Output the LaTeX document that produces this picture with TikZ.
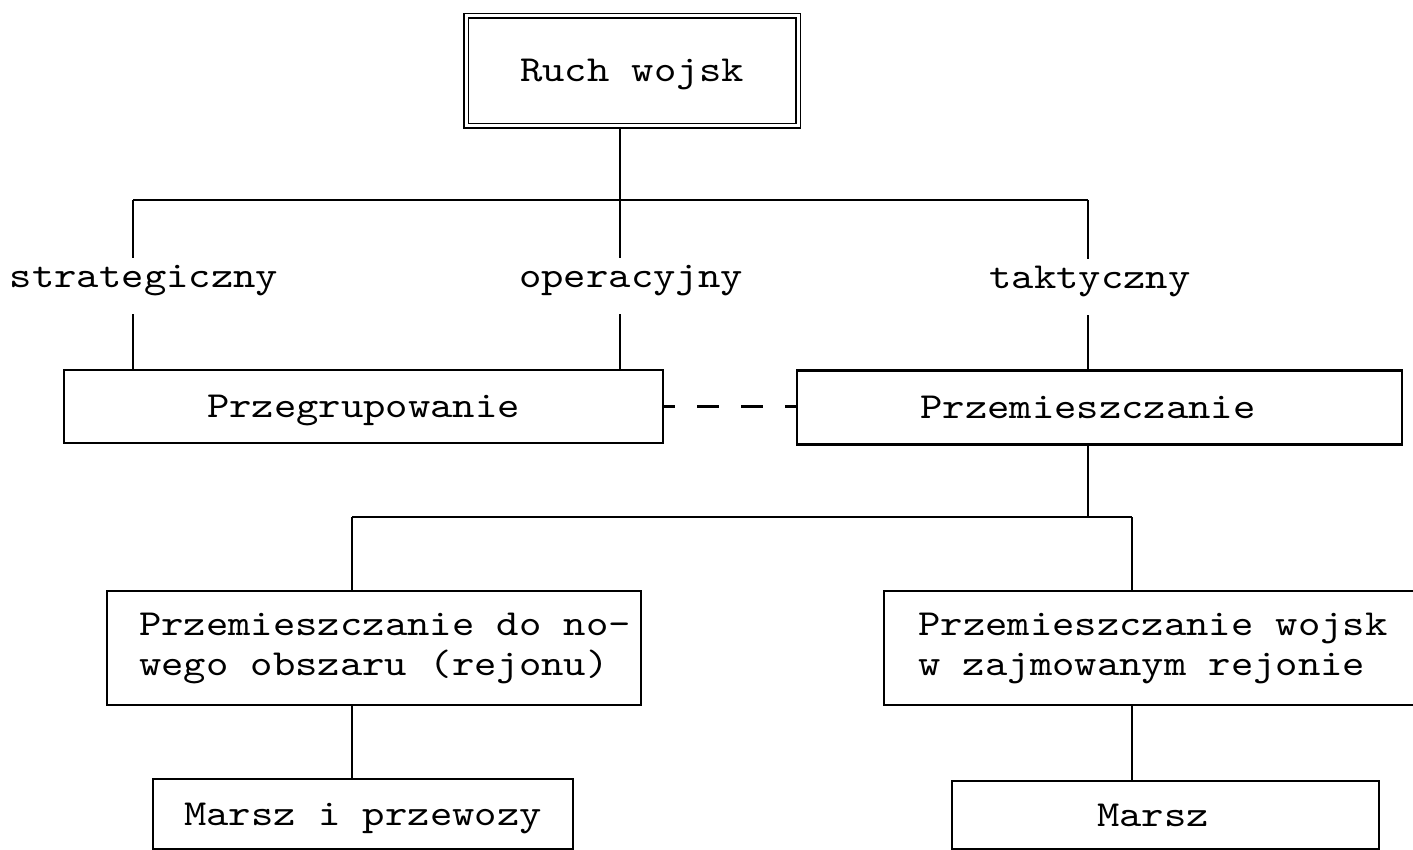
\documentclass[tikz,border=0pt]{standalone}
\usepackage{fontspec}
\setmonofont[FakeStretch=1.16]{lmmono10-regular.otf}
\begin{document}
\begin{tikzpicture}[x=0.5pt,y=-0.5pt,
  every node/.style={font=\fontsize{18.35}{20}\selectfont\ttfamily},
  conn/.style={line width=1.05pt},
  box/.style={draw,line width=1.05pt,inner sep=0pt,anchor=center},
  onebox/.style={box,text height=13.5pt,text depth=2.5pt},
  rootbox/.style={onebox,double,double distance=1.5pt,line width=0.9pt},
  lvl/.style={inner sep=0pt,anchor=base,text height=14.5pt,text depth=13.5pt},
  link/.style={conn,dash pattern=on 11pt off 11pt,dash phase=5.5pt}]
\useasboundingbox (0,0) rectangle (1413,850);
\clip (0,0) rectangle (1413,850);

% root
\node[rootbox,minimum width=166pt,minimum height=55pt] (ruch) at (632,71) {Ruch wojsk};

% level labels
\node[lvl] (strat) at (144,287) {strategiczny};
\node[lvl] (oper) at (631,287) {operacyjny};
\node[lvl] (takt) at (1090,288) {taktyczny};

% second row
\node[onebox,minimum width=299.5pt,minimum height=36.5pt] (pg) at (363.5,406.5) {Przegrupowanie};
\node[onebox,minimum width=302.5pt,minimum height=37pt] (pz) at (1099.5,407.5) {Przemieszczanie\hspace*{11.5pt}};

% third row
\node[box,align=left,minimum width=267pt,minimum height=57pt] (nowy) at (374,648)
  {\hspace*{11pt}Przemieszczanie do no-\\\hspace*{11pt}wego obszaru (rejonu)};
\node[box,align=left,minimum width=269pt,minimum height=57pt] (zajm) at (1153,648)
  {Przemieszczanie wojsk\\w zajmowanym rejonie};

% bottom row
\node[onebox,minimum width=210pt,minimum height=35pt] (mp) at (363,814) {Marsz i przewozy};
\node[onebox,minimum width=213.5pt,minimum height=34pt] (m) at (1165.5,815) {Marsz\hspace*{12.5pt}};

% branch points
\coordinate (sA) at (133,200);
\coordinate (oA) at (620,200);
\coordinate (tA) at (1088,200);
\coordinate (bC) at (1088,517);
\coordinate (bL) at (352,517);
\coordinate (bR) at (1132,517);

% upper tree
\draw[conn] (ruch.south -| oA) -- (oA);
\draw[conn] (sA) -- (tA);
\draw[conn] (sA) -- (strat.north -| sA);
\draw[conn] (strat.south -| sA) -- (pg.north -| sA);
\draw[conn] (oA) -- (oper.north -| oA);
\draw[conn] (oper.south -| oA) -- (pg.north -| oA);
\draw[conn] (tA) -- (takt.north -| tA);
\draw[conn] (takt.south -| tA) -- (pz.north -| tA);

% dashed link between the two kinds of movement
\draw[link] (pg.east) -- (pg.east -| pz.west);

% lower tree
\draw[conn] (pz.south -| bC) -- (bC);
\draw[conn] (bL) -- (bR);
\draw[conn] (bL) -- (nowy.north -| bL);
\draw[conn] (bR) -- (zajm.north -| bR);
\draw[conn] (nowy.south -| bL) -- (mp.north -| bL);
\draw[conn] (zajm.south -| bR) -- (m.north -| bR);
\end{tikzpicture}
\end{document}
